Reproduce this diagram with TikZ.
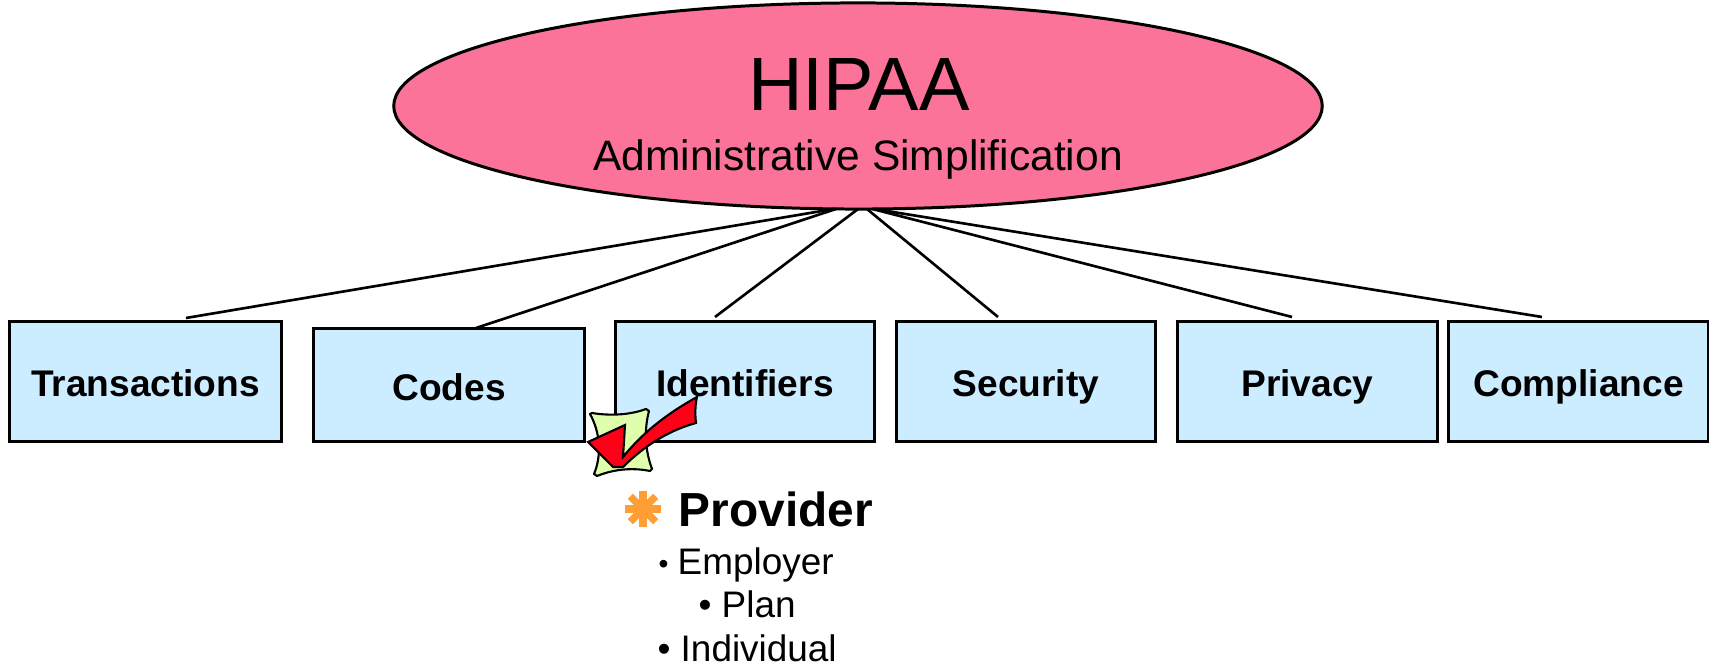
\documentclass[tikz,border=0pt]{standalone}
\usepackage{fontspec}
\setmainfont{Liberation Sans}
\usetikzlibrary{shapes.geometric}

\definecolor{hipaapink}{RGB}{251,115,153}
\definecolor{boxblue}{RGB}{204,236,255}
\definecolor{notegreen}{RGB}{223,255,173}
\definecolor{checkred}{RGB}{255,0,25}
\definecolor{staramber}{RGB}{255,158,51}

\tikzset{
    part/.style={draw, line width=0.85pt, fill=boxblue, inner sep=0pt, outer sep=0pt,
        text height=9.8pt, text depth=1pt,
        font=\fontsize{10.55}{12}\selectfont\bfseries},
    spoke/.style={line width=0.75pt},
    who/.style={inner sep=0pt, font=\fontsize{10.5}{12}\selectfont}
}

\begin{document}
\begin{tikzpicture}[x=0.01cm,y=-0.01cm]
        \useasboundingbox (0,0) rectangle (1709,665);

        \node[ellipse,draw,line width=0.85pt,fill=hipaapink,inner sep=0pt,outer sep=0pt,
            minimum width=9.28cm,minimum height=2.06cm] at (858,106) (hipaa) {};
        \node[inner sep=0pt,font=\fontsize{21.5}{24}\selectfont] at (859,85) (title) {HIPAA};
        \node[inner sep=0pt,font=\fontsize{12.1}{15}\selectfont] at (858,160) (subtitle) {Administrative Simplification};

        \node[part,minimum width=2.71cm,minimum height=1.19cm] at (145.5,381.5) (transactions) {Transactions};
        \node[part,minimum width=2.70cm,minimum height=1.12cm] at (449,385) (codes) {Codes};
        \node[part,minimum width=2.58cm,minimum height=1.19cm] at (745,381.5) (identifiers) {Identifiers};
        \node[part,minimum width=2.58cm,minimum height=1.19cm] at (1026,381.5) (security) {Security};
        \node[part,minimum width=2.59cm,minimum height=1.19cm] at (1307.5,381.5) (privacy) {Privacy};
        \node[part,minimum width=2.59cm,minimum height=1.19cm] at (1578.5,381.5) (compliance) {Compliance};

        \coordinate (t) at (186,318);
        \coordinate (i) at (715,317);
        \coordinate (s) at (998,317);
        \coordinate (p) at (1292,317);
        \coordinate (c) at (1542,317);
        \coordinate (k) at (476,328);

        \path[spoke]
        (hipaa.257) edge (t)
        (hipaa.258) edge (k)
        (hipaa.270) edge (i)
        (hipaa.275) edge (s)
        (hipaa.278) edge (p)
        (hipaa.279) edge (c)
        ;

        % note and tick
        \draw[line width=0.6pt,fill=notegreen,line join=round]
            (590,414) -- (592,413) .. controls (610,416) and (630,415) .. (646,409)
            -- (649,411) .. controls (644,430) and (645,450) .. (652,469)
            -- (650,471) .. controls (630,467) and (612,470) .. (597,476)
            -- (594,474) .. controls (602,455) and (600,432) .. (590,414) -- cycle;
        \draw[line width=0.6pt,fill=checkred]
            (588,442) -- (625,425) -- (623,457)
            .. controls (645,430) and (670,412) .. (697,397)
            .. controls (695,405) and (695,415) .. (696,423)
            .. controls (670,430) and (645,445) .. (623,467)
            -- (613,467) -- cycle;

        % eight armed bullet
        \coordinate (star) at (643,509);
        \foreach \a in {0,45,90,135}
            \draw[staramber,line width=2.1pt] (star) ++(\a:18) -- ++(\a+180:36);

        \node[inner sep=0pt,font=\fontsize{13.6}{16}\selectfont\bfseries,anchor=base west] at (678,527) (provider) {Provider};
        \node[who,anchor=base west] at (677,575) (employer) {Employer};
        \node[who,anchor=base west,font=\fontsize{8}{9}\selectfont] at (658,574) (dotemployer) {•};
        \node[who,anchor=base west] at (721,618) (plan) {Plan};
        \node[who,anchor=base west] at (698,618) (dotplan) {•};
        \node[who,anchor=base west] at (680,662) (individual) {Individual};
        \node[who,anchor=base west] at (657,662) (dotindividual) {•};
\end{tikzpicture}
\end{document}
